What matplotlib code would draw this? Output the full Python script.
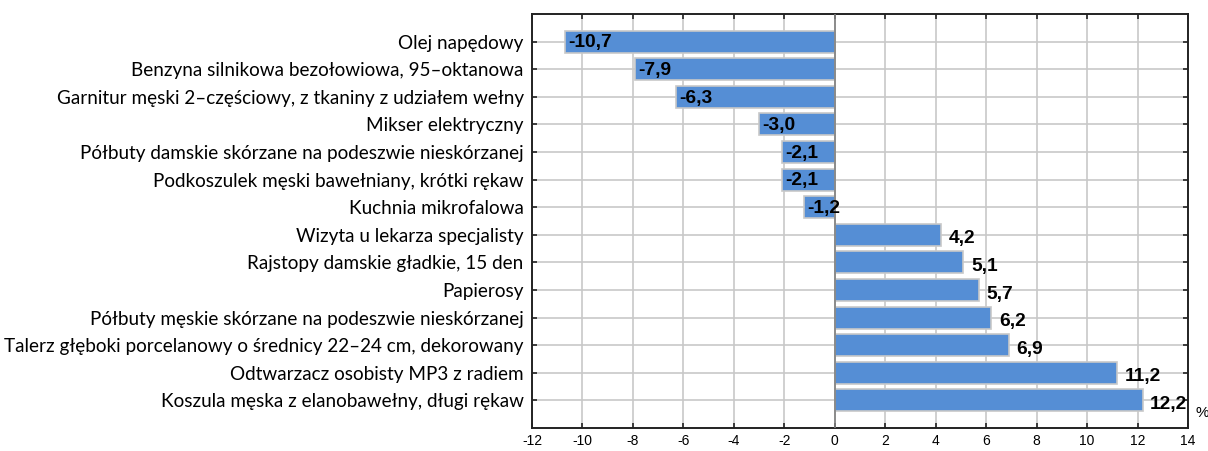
import matplotlib.pyplot as plt
import numpy as np

# --- data ---
categories = [
    "Olej napędowy",
    "Benzyna silnikowa bezołowiowa, 95–oktanowa",
    "Garnitur męski 2–częściowy, z tkaniny z udziałem wełny",
    "Mikser elektryczny",
    "Półbuty damskie skórzane na podeszwie nieskórzanej",
    "Podkoszulek męski bawełniany, krótki rękaw",
    "Kuchnia mikrofalowa",
    "Wizyta u lekarza specjalisty",
    "Rajstopy damskie gładkie, 15 den",
    "Papierosy",
    "Półbuty męskie skórzane na podeszwie nieskórzanej",
    "Talerz głęboki porcelanowy o średnicy 22–24 cm, dekorowany",
    "Odtwarzacz osobisty MP3 z radiem",
    "Koszula męska z elanobawełny, długi rękaw",
]
values = [-10.7, -7.9, -6.3, -3.0, -2.1, -2.1, -1.2, 4.2, 5.1, 5.7, 6.2, 6.9, 11.2, 12.2]
xticks = np.arange(-12, 15, 2)

fig = plt.figure(figsize=(12.08, 4.51), dpi=100)
ax = fig.add_axes([532 / 1208, 1 - 428 / 451, 656 / 1208, 414 / 451])

y = np.arange(len(categories))
ax.barh(y, values, height=0.8, color='#558ED5', edgecolor='#C8C8C8', linewidth=1.2, zorder=3)

# value labels: negatives inside the bar, positives just past the end
for yi, v in zip(y, values):
    lab = f"{v:.1f}".replace('.', ',')
    if v < 0:
        ax.text(v + 0.12, yi + 0.05, lab, va='center', ha='left', fontsize=13.8,
                fontweight='bold', family='Liberation Sans', zorder=4)
    else:
        ax.text(v + 0.3, yi + 0.15, lab, va='center', ha='left', fontsize=13.8,
                fontweight='bold', family='Liberation Sans', zorder=4)

ax.set_yticks(y)
ax.set_yticklabels(categories, family='Lato', fontsize=13.6)
ax.set_xticks(xticks)
ax.set_xticklabels([str(t) for t in xticks], family='Liberation Sans', fontsize=10)
ax.set_xlim(-12, 14)
ax.set_ylim(14.0, -1.0)

ax.grid(True, color='#C8C8C8', linewidth=1.2, zorder=0)
ax.axvline(0, color='#808080', linewidth=1.2, zorder=3)
for s in ax.spines.values():
    s.set_linewidth(1.4)
    s.set_color('#222222')
ax.tick_params(axis='both', length=3.5, width=1.2, direction='in', color='#222222')
ax.tick_params(axis='x', top=True, bottom=True, pad=4)
ax.tick_params(axis='y', left=True, right=True, pad=6)

fig.text(1196 / 1208, 1 - 413 / 451, '%', fontsize=11, family='Liberation Sans', va='center', ha='left')

plt.savefig('out.png', dpi=100)
